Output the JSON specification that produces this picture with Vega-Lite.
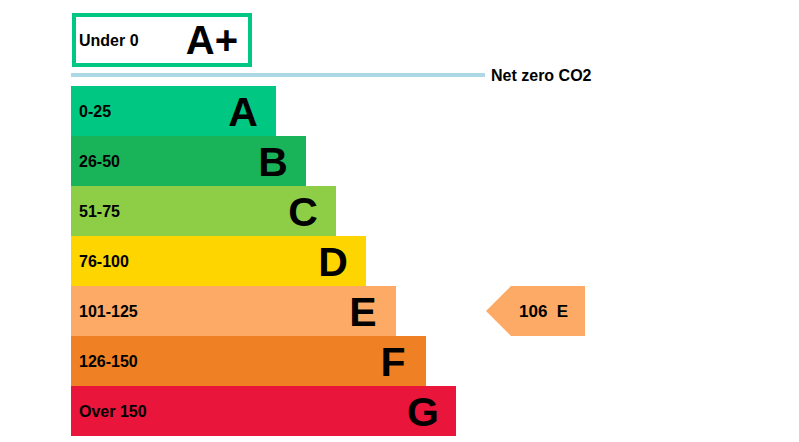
{
  "$schema": "https://vega.github.io/schema/vega-lite/v6.json",
  "width": 799,
  "height": 442,
  "padding": 0,
  "autosize": "none",
  "background": "white",
  "config": {
    "view": {"stroke": null},
    "font": "Liberation Sans",
    "text": {"font": "Liberation Sans", "fontWeight": "bold", "color": "#000000"}
  },
  "datasets": {
    "bands": [
      {"rating": "A", "range": "0-25", "row": 0, "len": 205},
      {"rating": "B", "range": "26-50", "row": 1, "len": 235},
      {"rating": "C", "range": "51-75", "row": 2, "len": 265},
      {"rating": "D", "range": "76-100", "row": 3, "len": 295},
      {"rating": "E", "range": "101-125", "row": 4, "len": 325},
      {"rating": "F", "range": "126-150", "row": 5, "len": 355},
      {"rating": "G", "range": "Over 150", "row": 6, "len": 385}
    ],
    "top": [
      {"rating": "A+", "range": "Under 0", "x0": 3, "x1": 179, "y0": -1.42, "y1": -0.42, "mid": -0.92}
    ],
    "netzero": [
      {"label": "Net zero CO2", "x0": 0, "x1": 414, "y": -0.22}
    ],
    "current": [
      {"score": 106, "rating": "E", "row": 4, "x": 440, "label": "106\u00a0\u00a0E"}
    ]
  },
  "layer": [
    {
      "data": {"name": "bands"},
      "transform": [{"calculate": "datum.row + 1", "as": "row_end"}],
      "mark": {"type": "rect"},
      "encoding": {
        "x": {"field": "len", "type": "quantitative", "scale": {"domain": [-71, 728], "nice": false, "zero": false}, "axis": null},
        "x2": {"datum": 0},
        "y": {"field": "row", "type": "quantitative", "scale": {"domain": [-1.72, 7.12], "reverse": true, "nice": false, "zero": false}, "axis": null},
        "y2": {"field": "row_end"},
        "color": {
          "field": "rating",
          "type": "nominal",
          "scale": {
            "domain": ["A", "B", "C", "D", "E", "F", "G"],
            "range": ["#00c781", "#19b459", "#8dce46", "#ffd500", "#fcaa65", "#ef8023", "#e9153b"]
          },
          "legend": null
        }
      }
    },
    {
      "data": {"name": "bands"},
      "transform": [{"calculate": "datum.row + 0.5", "as": "mid"}],
      "mark": {"type": "text", "align": "left", "baseline": "alphabetic", "fontSize": 16, "dx": 8, "dy": 5.7},
      "encoding": {
        "x": {"datum": 0, "type": "quantitative"},
        "y": {"field": "mid", "type": "quantitative"},
        "text": {"field": "range"}
      }
    },
    {
      "data": {"name": "bands"},
      "transform": [{"calculate": "datum.row + 0.5", "as": "mid"}],
      "mark": {"type": "text", "align": "center", "baseline": "alphabetic", "fontSize": 41, "dx": -33, "dy": 14.5},
      "encoding": {
        "x": {"field": "len", "type": "quantitative"},
        "y": {"field": "mid", "type": "quantitative"},
        "text": {"field": "rating"}
      }
    },
    {
      "data": {"name": "top"},
      "mark": {"type": "rect", "fill": "#ffffff", "stroke": "#00c781", "strokeWidth": 4},
      "encoding": {
        "x": {"field": "x0", "type": "quantitative"},
        "x2": {"field": "x1"},
        "y": {"field": "y0", "type": "quantitative"},
        "y2": {"field": "y1"}
      }
    },
    {
      "data": {"name": "top"},
      "mark": {"type": "text", "align": "left", "baseline": "alphabetic", "fontSize": 16, "dx": 5, "dy": 5.7},
      "encoding": {
        "x": {"field": "x0", "type": "quantitative"},
        "y": {"field": "mid", "type": "quantitative"},
        "text": {"field": "range"}
      }
    },
    {
      "data": {"name": "top"},
      "mark": {"type": "text", "align": "right", "baseline": "alphabetic", "fontSize": 40, "dx": -12, "dy": 14.3},
      "encoding": {
        "x": {"field": "x1", "type": "quantitative"},
        "y": {"field": "mid", "type": "quantitative"},
        "text": {"field": "rating"}
      }
    },
    {
      "data": {"name": "netzero"},
      "mark": {"type": "rule", "color": "#add8e6", "strokeWidth": 4},
      "encoding": {
        "x": {"field": "x0", "type": "quantitative"},
        "x2": {"field": "x1"},
        "y": {"field": "y", "type": "quantitative"}
      }
    },
    {
      "data": {"name": "netzero"},
      "mark": {"type": "text", "align": "left", "baseline": "alphabetic", "fontSize": 16, "dx": 6, "dy": 5.7},
      "encoding": {
        "x": {"field": "x1", "type": "quantitative"},
        "y": {"field": "y", "type": "quantitative"},
        "text": {"field": "label"}
      }
    },
    {
      "data": {"name": "current"},
      "transform": [{"calculate": "datum.row + 0.5", "as": "mid"}],
      "mark": {
        "type": "point",
        "shape": "M-1,0L0,-1L2.96,-1L2.96,1L0,1Z",
        "size": 2500,
        "filled": true,
        "opacity": 1,
        "color": "#fcaa65",
        "strokeWidth": 0
      },
      "encoding": {
        "x": {"field": "x", "type": "quantitative"},
        "y": {"field": "mid", "type": "quantitative"}
      }
    },
    {
      "data": {"name": "current"},
      "transform": [{"calculate": "datum.row + 0.5", "as": "mid"}],
      "mark": {"type": "text", "align": "left", "baseline": "alphabetic", "fontSize": 17, "dx": 8, "dy": 6.1},
      "encoding": {
        "x": {"field": "x", "type": "quantitative"},
        "y": {"field": "mid", "type": "quantitative"},
        "text": {"field": "label"}
      }
    }
  ]
}
